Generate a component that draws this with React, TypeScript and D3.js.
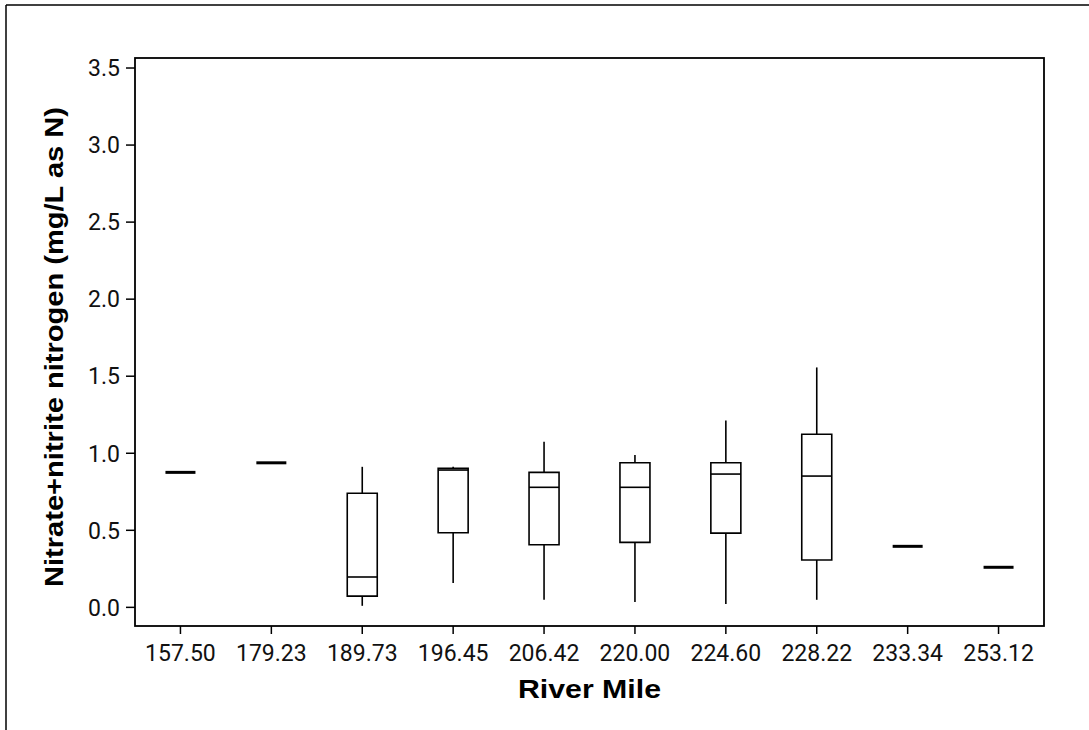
import React from "react";
import * as d3 from "d3";

const sites = ["157.50", "179.23", "189.73", "196.45", "206.42", "220.00", "224.60", "228.22", "233.34", "253.12"];
const whiskerLow = [0.876, 0.938, 0.01, 0.158, 0.049, 0.034, 0.021, 0.049, 0.396, 0.26];
const q1 = [0.876, 0.938, 0.073, 0.484, 0.406, 0.422, 0.482, 0.307, 0.396, 0.26];
const median = [0.876, 0.938, 0.197, 0.891, 0.779, 0.779, 0.865, 0.852, 0.396, 0.26];
const q3 = [0.876, 0.938, 0.74, 0.902, 0.876, 0.938, 0.938, 1.123, 0.396, 0.26];
const whiskerHigh = [0.876, 0.938, 0.912, 0.912, 1.075, 0.988, 1.213, 1.557, 0.396, 0.26];
const yTicks = [0, 0.5, 1.0, 1.5, 2.0, 2.5, 3.0, 3.5];

const W = 1089;
const H = 730;
const plot = { left: 135, top: 58, right: 1044, bottom: 626 };

export default function App() {
  const x = d3.scaleBand<string>().domain(sites).range([plot.left, plot.right]).padding(0);
  const y = d3.scaleLinear().domain([-0.121, 3.565]).range([plot.bottom, plot.top]);
  const boxW = 30;
  const tickFont = "Roboto, 'Liberation Sans', Arial, sans-serif";
  const boldFont = "'Liberation Sans', Arial, sans-serif";

  return (
    <svg
      width={W}
      height={H}
      style={{ position: "absolute", left: 0, top: 0, display: "block", background: "#fff" }}
    >
      <rect x={0} y={0} width={W} height={H} fill="#fff" />
      {/* outer frame (top & left) */}
      <line x1={6} y1={5} x2={W} y2={5} stroke="#000" strokeWidth={1.5} />
      <line x1={6} y1={5} x2={6} y2={H} stroke="#000" strokeWidth={1.5} />

      {/* plot frame */}
      <rect
        x={plot.left}
        y={plot.top}
        width={plot.right - plot.left}
        height={plot.bottom - plot.top}
        fill="none"
        stroke="#000"
        strokeWidth={1.8}
      />

      {/* y ticks */}
      {yTicks.map((t) => (
        <g key={"y" + t}>
          <line x1={plot.left - 9} x2={plot.left} y1={y(t)} y2={y(t)} stroke="#000" strokeWidth={1.5} />
          <text
            x={plot.left - 15}
            y={y(t)}
            dy="0.36em"
            textAnchor="end"
            fontFamily={tickFont}
            fontSize={23}
            fill="#111"
          >
            {d3.format(".1f")(t)}
          </text>
        </g>
      ))}

      {/* x ticks */}
      {sites.map((s) => {
        const cx = (x(s) as number) + x.bandwidth() / 2;
        return (
          <g key={"x" + s}>
            <line x1={cx} x2={cx} y1={plot.bottom} y2={plot.bottom + 8} stroke="#000" strokeWidth={1.5} />
            <text x={cx} y={661} textAnchor="middle" fontFamily={tickFont} fontSize={23} fill="#111">
              {s}
            </text>
          </g>
        );
      })}

      {/* boxes */}
      {sites.map((s, i) => {
        const cx = (x(s) as number) + x.bandwidth() / 2;
        const x0 = cx - boxW / 2;
        const x1 = cx + boxW / 2;
        const single = q1[i] === q3[i] && whiskerLow[i] === whiskerHigh[i];
        if (single) {
          return (
            <line key={"b" + s} x1={x0} x2={x1} y1={y(median[i])} y2={y(median[i])} stroke="#000" strokeWidth={3} />
          );
        }
        const boxPath = `M${x0},${y(q3[i])}H${x1}V${y(q1[i])}H${x0}Z`;
        return (
          <g key={"b" + s} stroke="#000" strokeWidth={1.6} fill="none">
            <line x1={cx} x2={cx} y1={y(q3[i])} y2={y(whiskerHigh[i])} />
            <line x1={cx} x2={cx} y1={y(q1[i])} y2={y(whiskerLow[i])} />
            <path d={boxPath} fill="#fff" />
            <line x1={x0} x2={x1} y1={y(median[i])} y2={y(median[i])} />
          </g>
        );
      })}

      {/* axis titles */}
      <text
        x={(plot.left + plot.right) / 2}
        y={697.5}
        textAnchor="middle"
        fontFamily={boldFont}
        fontWeight="bold"
        fontSize={26.5}
        textLength={143}
        lengthAdjust="spacingAndGlyphs"
        fill="#000"
      >
        River Mile
      </text>
      <text
        transform="translate(63,347) rotate(-90)"
        textAnchor="middle"
        fontFamily={boldFont}
        fontWeight="bold"
        fontSize={25}
        textLength={480}
        lengthAdjust="spacingAndGlyphs"
        fill="#000"
      >
        Nitrate+nitrite nitrogen (mg/L as N)
      </text>
    </svg>
  );
}
